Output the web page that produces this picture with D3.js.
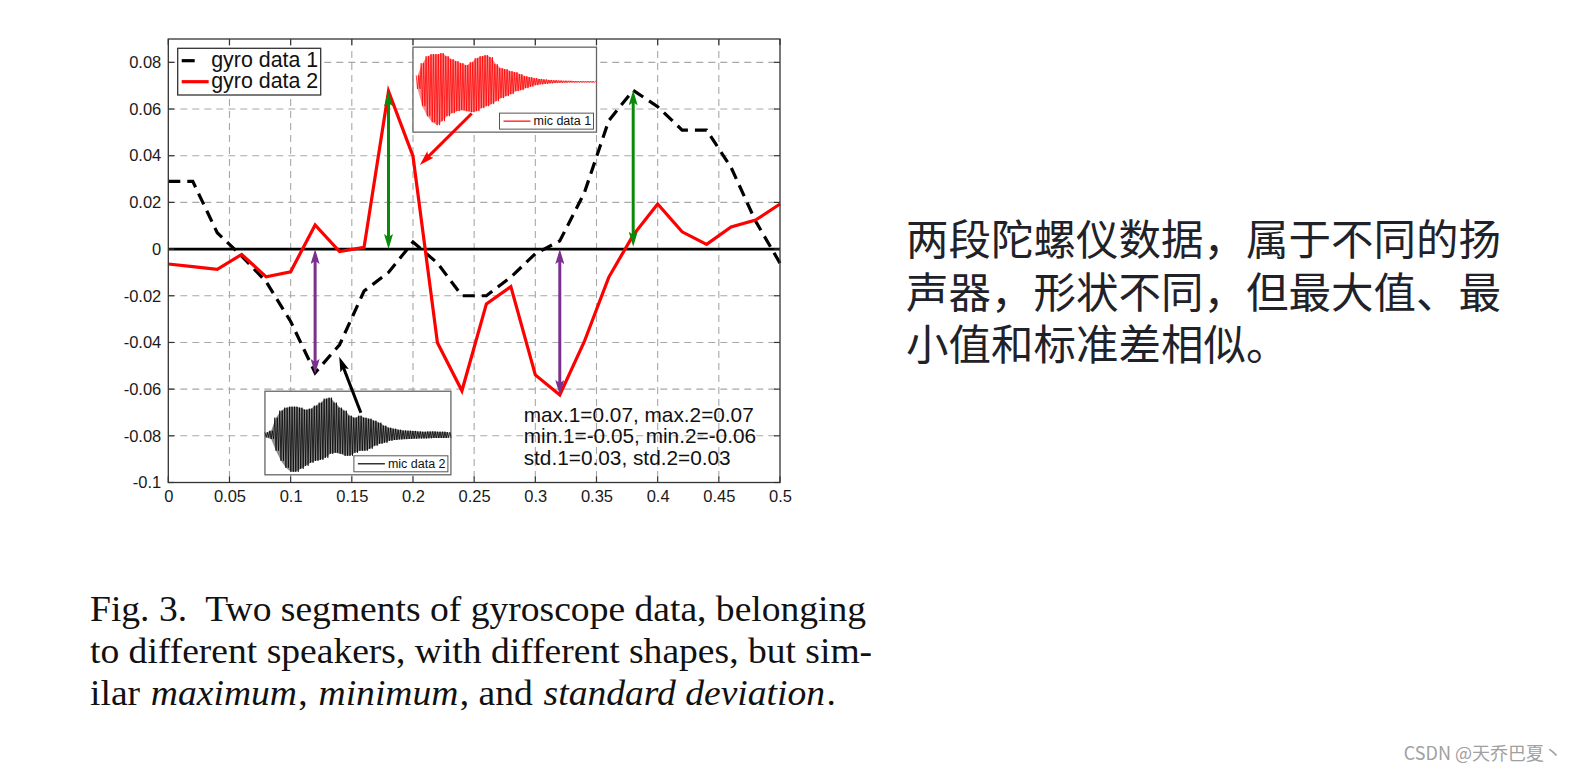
<!DOCTYPE html>
<html lang="en">
<head>
<meta charset="UTF-8">
<title>Two segments of gyroscope data</title>
<script src="https://d3js.org/d3.v7.min.js"></script>
<style>
  html, body { margin: 0; padding: 0; background: #fff; }
  svg { display: block; }
</style>
</head>
<body>
<svg id="chart" width="1576" height="772"></svg>
<script>
// ---- data ----
var timeValues = [0, 0.02, 0.04, 0.06, 0.08, 0.10, 0.12, 0.14, 0.16, 0.18, 0.20, 0.22, 0.24,
                  0.26, 0.28, 0.30, 0.32, 0.34, 0.36, 0.38, 0.40, 0.42, 0.44, 0.46, 0.48, 0.50];
var gyro1 = [0.029, 0.029, 0.007, -0.003, -0.014, -0.031, -0.053, -0.041, -0.018, -0.010, 0.003, -0.006, -0.020,
             -0.020, -0.012, -0.002, 0.0035, 0.024, 0.055, 0.068, 0.061, 0.051, 0.051, 0.035, 0.012, -0.006];
var gyro2 = [-0.0064, -0.0075, -0.0087, -0.0023, -0.0119, -0.0097, 0.0103, -0.0011, 0.0007, 0.0676, 0.0398, -0.0401, -0.0607,
             -0.0235, -0.0161, -0.0539, -0.0625, -0.0397, -0.0121, 0.0060, 0.0193, 0.0074, 0.0020, 0.0095, 0.0124, 0.0193];

var xTicks = [0, 0.05, 0.1, 0.15, 0.2, 0.25, 0.3, 0.35, 0.4, 0.45, 0.5];
var yTicks = [-0.1, -0.08, -0.06, -0.04, -0.02, 0, 0.02, 0.04, 0.06, 0.08];
var xTickLabels = ["0", "0.05", "0.1", "0.15", "0.2", "0.25", "0.3", "0.35", "0.4", "0.45", "0.5"];
var yTickLabels = ["-0.1", "-0.08", "-0.06", "-0.04", "-0.02", "0", "0.02", "0.04", "0.06", "0.08"];

// microphone envelopes (upper / lower peak, arbitrary units)
var micUpper1 = [0.067, 0.19, 0.26, 0.28, 0.28, 0.29, 0.26, 0.23, 0.21, 0.19, 0.17, 0.20, 0.24, 0.26, 0.27, 0.25,
                 0.18, 0.14, 0.13, 0.11, 0.10, 0.08, 0.06, 0.05, 0.04, 0.032, 0.027, 0.022, 0.019, 0.016, 0.014,
                 0.013, 0.011, 0.010, 0.010, 0.010, 0.008];
var micLower1 = [0.067, 0.24, 0.34, 0.40, 0.43, 0.39, 0.34, 0.31, 0.29, 0.28, 0.29, 0.30, 0.29, 0.26, 0.24, 0.22,
                 0.19, 0.16, 0.14, 0.12, 0.09, 0.08, 0.06, 0.045, 0.03, 0.022, 0.017, 0.012, 0.009, 0.007, 0.005,
                 0.004, 0.003, 0.003, 0.003, 0.003, 0.003];
var micUpper2 = [0.023, 0.04, 0.17, 0.24, 0.27, 0.28, 0.28, 0.27, 0.25, 0.26, 0.29, 0.32, 0.36, 0.37, 0.32, 0.27,
                 0.24, 0.19, 0.17, 0.19, 0.17, 0.16, 0.14, 0.12, 0.09, 0.07, 0.06, 0.05, 0.042, 0.04, 0.038,
                 0.033, 0.03, 0.032, 0.033, 0.03, 0.03, 0.025];
var micLower2 = [0.027, 0.043, 0.16, 0.26, 0.33, 0.37, 0.37, 0.34, 0.31, 0.28, 0.26, 0.25, 0.23, 0.19, 0.18, 0.19,
                 0.21, 0.21, 0.18, 0.16, 0.16, 0.14, 0.11, 0.09, 0.08, 0.06, 0.053, 0.047, 0.044, 0.042, 0.04,
                 0.037, 0.037, 0.035, 0.033, 0.033, 0.033, 0.03];

var statLines = ["max.1=0.07, max.2=0.07", "min.1=-0.05, min.2=-0.06", "std.1=0.03, std.2=0.03"];
var noteLines = ["两段陀螺仪数据，属于不同的扬", "声器，形状不同，但最大值、最", "小值和标准差相似。"];

// annotation arrows, data units
var rangeArrows = [
  { x1: 0.18, y1: 0.0676, x2: 0.18, y2: 0.0, color: "#0a8a0a" },
  { x1: 0.38, y1: 0.0680, x2: 0.38, y2: 0.001, color: "#0a8a0a" },
  { x1: 0.12, y1: 0.0, x2: 0.12, y2: -0.0535, color: "#7b2f8e" },
  { x1: 0.32, y1: 0.0, x2: 0.32, y2: -0.0625, color: "#7b2f8e" }
];
var pointerArrows = [
  { x1: 0.248, y1: 0.0581, x2: 0.2056, y2: 0.0360, color: "#ff0000" },
  { x1: 0.1574, y1: -0.0701, x2: 0.1397, y2: -0.0461, color: "#000000" }
];

// inset boxes, data units
var insets = [
  { x0: 0.200, x1: 0.350, y0: 0.0501, y1: 0.0865, up: micUpper1, low: micLower1, amp: [-0.5, 0.35],
    color: "#ff0000", label: "mic data 1", pad: 3.3 },
  { x0: 0.079, x1: 0.231, y0: -0.0967, y1: -0.0609, up: micUpper2, low: micLower2, amp: [-0.40, 0.434],
    color: "#000000", label: "mic data 2", pad: 0 }
];

// ---- layout ----
var margin = { top: 39, right: 796, bottom: 289.5, left: 168.3 };
var W = 1576, H = 772;
var width = W - margin.left - margin.right;
var height = H - margin.top - margin.bottom;

var svg = d3.select("#chart");
svg.append("rect").attr("width", W).attr("height", H).attr("fill", "#fff");

var g = svg.append("g").attr("transform", "translate(" + margin.left + "," + margin.top + ")");

var x = d3.scaleLinear().domain([0, 0.5]).range([0, width]);
var y = d3.scaleLinear().domain([-0.1, 0.09]).range([height, 0]);

var sans = "'Liberation Sans', Arial, Helvetica, sans-serif";

// grid
g.append("g").selectAll("line").data(xTicks.slice(1, -1)).enter().append("line")
  .attr("x1", d => x(d)).attr("x2", d => x(d)).attr("y1", 0).attr("y2", height)
  .attr("stroke", "#a8a8a8").attr("stroke-width", 1.1).attr("stroke-dasharray", "7,5");
g.append("g").selectAll("line").data(yTicks.slice(1)).enter().append("line")
  .attr("x1", 0).attr("x2", width).attr("y1", d => y(d)).attr("y2", d => y(d))
  .attr("stroke", "#a8a8a8").attr("stroke-width", 1.1).attr("stroke-dasharray", "7,5");

// axes (labels only, ticks drawn inward below)
var xAxis = g.append("g").attr("transform", "translate(0," + height + ")")
  .call(d3.axisBottom(x).tickValues(xTicks).tickSize(0).tickPadding(8)
    .tickFormat((d, i) => xTickLabels[i]));
var yAxis = g.append("g")
  .call(d3.axisLeft(y).tickValues(yTicks).tickSize(0).tickPadding(7)
    .tickFormat((d, i) => yTickLabels[i]));
[xAxis, yAxis].forEach(function (a) {
  a.select(".domain").remove();
  a.selectAll("text").attr("font-family", sans).attr("font-size", 16.5).attr("fill", "#1a1a1a");
});

// zero line
g.append("line").attr("x1", 0).attr("x2", width).attr("y1", y(0)).attr("y2", y(0))
  .attr("stroke", "#000").attr("stroke-width", 2.6);

// data lines
var line = d3.line().x((d, i) => x(timeValues[i])).y(d => y(d));
g.append("path").datum(gyro1).attr("d", line).attr("fill", "none")
  .attr("stroke", "#000").attr("stroke-width", 3.2).attr("stroke-dasharray", "12,7");
g.append("path").datum(gyro2).attr("d", line).attr("fill", "none")
  .attr("stroke", "#ff0000").attr("stroke-width", 3.2).attr("stroke-linejoin", "miter");

// insets with microphone waveforms
insets.forEach(function (ins) {
  var bx = x(ins.x0), by = y(ins.y1), bw = x(ins.x1) - x(ins.x0), bh = y(ins.y0) - y(ins.y1);
  var ig = g.append("g").attr("transform", "translate(" + bx + "," + by + ")");
  ig.append("rect").attr("width", bw).attr("height", bh).attr("fill", "#fff")
    .attr("stroke", "#666").attr("stroke-width", 1.3);
  var n = ins.up.length;
  var wx = d3.scaleLinear().domain([0, n - 0.5]).range([ins.pad, bw - 1]);
  var wy = d3.scaleLinear().domain(ins.amp).range([bh, 0]);
  var area = d3.area().x((d, i) => wx(i + 0.25)).y0((d, i) => wy(-ins.low[i])).y1(d => wy(d));
  ig.append("path").datum(ins.up).attr("d", area).attr("fill", ins.color).attr("opacity", 0.45);
  // oscillation strokes between each envelope pair
  var pts = [];
  ins.up.forEach(function (u, i) {
    pts.push([i, u]); pts.push([i + 0.25, -ins.low[i]]);
    pts.push([i + 0.5, u]); pts.push([i + 0.75, -ins.low[i]]);
  });
  ig.append("path").datum(pts)
    .attr("d", d3.line().x(d => wx(d[0])).y(d => wy(d[1])))
    .attr("fill", "none").attr("stroke", ins.color).attr("stroke-width", 0.75);
  // small legend
  var lw = 94, lh = 16;
  var lg = ig.append("g").attr("transform", "translate(" + (bw - lw - 3) + "," + (bh - lh - 3) + ")");
  lg.append("rect").attr("width", lw).attr("height", lh).attr("fill", "#fff")
    .attr("stroke", "#555").attr("stroke-width", 1);
  lg.append("line").attr("x1", 4).attr("x2", 31).attr("y1", lh / 2).attr("y2", lh / 2)
    .attr("stroke", ins.color).attr("stroke-width", 1.2);
  lg.append("text").attr("x", 34).attr("y", lh / 2 + 4.3).attr("font-family", sans)
    .attr("font-size", 12.5).attr("fill", "#111").text(ins.label);
});

// arrow markers
var defs = svg.append("defs");
function markerFor(color) {
  var id = "head" + color.replace("#", "");
  if (defs.select("#" + id).empty()) {
    defs.append("marker").attr("id", id).attr("viewBox", "0 0 15 9")
      .attr("refX", 15).attr("refY", 4.5).attr("markerWidth", 15).attr("markerHeight", 9)
      .attr("markerUnits", "userSpaceOnUse").attr("orient", "auto-start-reverse")
      .append("path").attr("d", "M0,0 L15,4.5 L0,9 L3,4.5 Z").attr("fill", color);
  }
  return "url(#" + id + ")";
}
function shortened(a, cut, both) {
  var px1 = x(a.x1), py1 = y(a.y1), px2 = x(a.x2), py2 = y(a.y2);
  var len = Math.hypot(px2 - px1, py2 - py1), ux = (px2 - px1) / len, uy = (py2 - py1) / len;
  return { x1: px1 + (both ? ux * cut : 0), y1: py1 + (both ? uy * cut : 0),
           x2: px2 - ux * cut, y2: py2 - uy * cut, tx1: px1, ty1: py1, tx2: px2, ty2: py2 };
}
rangeArrows.forEach(function (a) {
  var s = shortened(a, 8, true);
  g.append("line").attr("x1", s.x1).attr("y1", s.y1).attr("x2", s.x2).attr("y2", s.y2)
    .attr("stroke", a.color).attr("stroke-width", 3);
  g.append("line").attr("x1", s.tx1).attr("y1", s.ty1).attr("x2", s.tx2).attr("y2", s.ty2)
    .attr("stroke", "none").attr("stroke-width", 0)
    .attr("marker-start", markerFor(a.color)).attr("marker-end", markerFor(a.color));
});
pointerArrows.forEach(function (a) {
  var s = shortened(a, 8, false);
  g.append("line").attr("x1", s.x1).attr("y1", s.y1).attr("x2", s.x2).attr("y2", s.y2)
    .attr("stroke", a.color).attr("stroke-width", 3);
  g.append("line").attr("x1", s.tx1).attr("y1", s.ty1).attr("x2", s.tx2).attr("y2", s.ty2)
    .attr("stroke", "none").attr("marker-end", markerFor(a.color));
});

// stats text
g.append("text").attr("font-family", sans).attr("font-size", 20.8).attr("fill", "#111")
  .selectAll("tspan").data(statLines).enter().append("tspan")
  .attr("x", x(0.2905)).attr("y", (d, i) => y(-0.074) + i * 21.6).text(d => d);

// frame and inward ticks
g.append("rect").attr("width", width).attr("height", height).attr("fill", "none")
  .attr("stroke", "#333").attr("stroke-width", 1.3);
var tk = g.append("g").attr("stroke", "#333").attr("stroke-width", 1.2);
xTicks.forEach(function (d) {
  tk.append("line").attr("x1", x(d)).attr("x2", x(d)).attr("y1", height).attr("y2", height - 6);
  tk.append("line").attr("x1", x(d)).attr("x2", x(d)).attr("y1", 0).attr("y2", 6);
});
yTicks.forEach(function (d) {
  tk.append("line").attr("x1", 0).attr("x2", 6).attr("y1", y(d)).attr("y2", y(d));
  tk.append("line").attr("x1", width).attr("x2", width - 6).attr("y1", y(d)).attr("y2", y(d));
});

// main legend
var legend = g.append("g").attr("transform", "translate(9.4,9.3)");
legend.append("rect").attr("width", 143).attr("height", 46.7).attr("fill", "#fff")
  .attr("stroke", "#333").attr("stroke-width", 1.3);
var legendItems = [
  { label: "gyro data 1", color: "#000", dash: "13,20" },
  { label: "gyro data 2", color: "#ff0000", dash: null }
];
legendItems.forEach(function (d, i) {
  var ly = 12.4 + i * 21;
  legend.append("line").attr("x1", 4).attr("x2", 31).attr("y1", ly).attr("y2", ly)
    .attr("stroke", d.color).attr("stroke-width", 3.2).attr("stroke-dasharray", d.dash);
  legend.append("text").attr("x", 33.5).attr("y", ly + 6.8).attr("font-family", sans)
    .attr("font-size", 21.4).attr("fill", "#111").text(d.label);
});

// caption (Times, slightly wide as in the scanned figure)
var serif = "'Liberation Serif', 'Times New Roman', serif";
var cap = svg.append("g").attr("transform", "translate(90,0) scale(1.074,1)")
  .append("text").attr("font-family", serif).attr("font-size", 35).attr("fill", "#111")
  .style("white-space", "pre");
cap.append("tspan").attr("x", 0).attr("y", 621).text("Fig. 3.  Two segments of gyroscope data, belonging");
cap.append("tspan").attr("x", 0).attr("y", 663).text("to different speakers, with different shapes, but sim-");
var l3parts = [["ilar ", false], ["maximum", true], [", ", false], ["minimum", true],
               [", and ", false], ["standard deviation", true], [".", false]];
cap.selectAll("tspan.part").data(l3parts).enter().append("tspan").attr("class", "part")
  .attr("font-style", d => d[1] ? "italic" : "normal")
  .attr("dx", (d, i) => i > 0 ? 1.3 : 0).text(d => d[0]);
cap.select("tspan.part").attr("x", 0).attr("y", 705);

// chinese note, one text block
svg.append("text").attr("font-family", "'Noto Sans CJK SC', sans-serif").attr("font-size", 42.5)
  .attr("fill", "#1f2329")
  .selectAll("tspan").data(noteLines).enter().append("tspan")
  .attr("x", 906).attr("y", (d, i) => 255 + i * 52.5).text(d => d);

// watermark
svg.append("text").attr("x", 1562).attr("y", 752).attr("text-anchor", "end")
  .attr("dominant-baseline", "central").attr("font-family", "'Noto Sans CJK SC', sans-serif")
  .attr("font-size", 18).attr("fill", "#a0a0a0").text("CSDN @天乔巴夏丶");
</script>
</body>
</html>
